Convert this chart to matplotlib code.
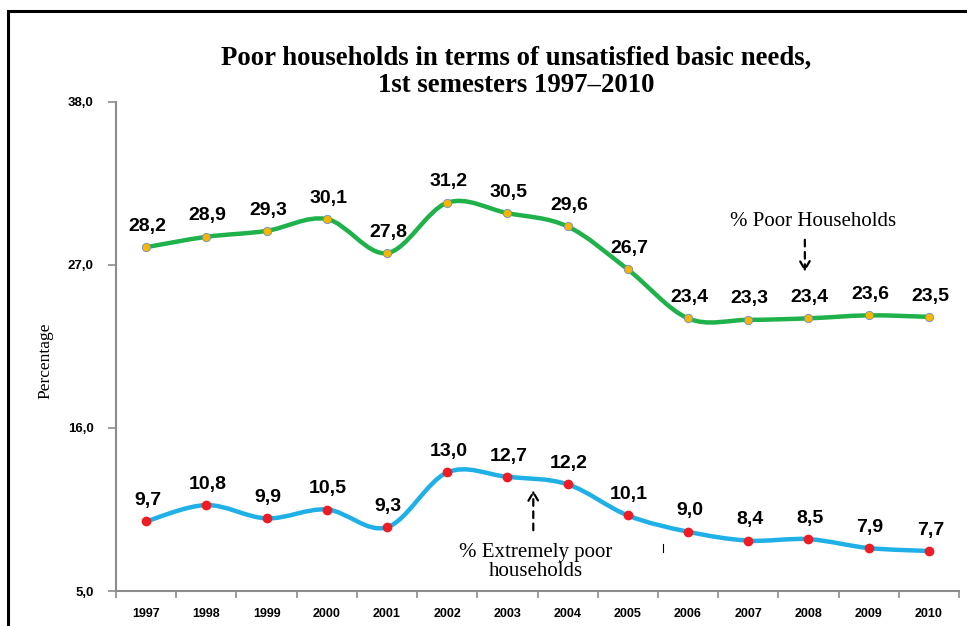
import numpy as np
import matplotlib.pyplot as plt
from matplotlib.path import Path
from matplotlib.patches import PathPatch, Rectangle

years = ['1997', '1998', '1999', '2000', '2001', '2002', '2003',
         '2004', '2005', '2006', '2007', '2008', '2009', '2010']
poor = [28.2, 28.9, 29.3, 30.1, 27.8, 31.2, 30.5, 29.6, 26.7,
        23.4, 23.3, 23.4, 23.6, 23.5]
extreme = [9.7, 10.8, 9.9, 10.5, 9.3, 13.0, 12.7, 12.2, 10.1,
           9.0, 8.4, 8.5, 7.9, 7.7]
y_ticks = [5.0, 16.0, 27.0, 38.0]


def smooth_path(xs, ys):
    # excel-like smoothed line: cubic bezier through every point
    pts = np.column_stack([xs, ys]).astype(float)
    n = len(pts)
    verts = [pts[0]]
    codes = [Path.MOVETO]
    for i in range(n - 1):
        p0 = pts[i - 1] if i > 0 else pts[i]
        p1 = pts[i]
        p2 = pts[i + 1]
        p3 = pts[i + 2] if i + 2 < n else pts[i + 1]
        c1 = p1 + (p2 - p0) / 6.0
        c2 = p2 - (p3 - p1) / 6.0
        verts += [c1, c2, p2]
        codes += [Path.CURVE4] * 3
    return Path(verts, codes)


fig = plt.figure(figsize=(9.67, 6.26), dpi=100)
ax = fig.add_axes([0.12, 0.0559, 0.8717, 0.7812])

x = np.arange(len(years))

ax.add_patch(PathPatch(smooth_path(x, poor), facecolor='none',
                       edgecolor='#1fb24a', lw=3.2, capstyle='round', zorder=2))
ax.add_patch(PathPatch(smooth_path(x, extreme), facecolor='none',
                       edgecolor='#1eb0e6', lw=3.2, capstyle='round', zorder=2))
ax.plot(x, poor, 'o', color='#f7b500', markeredgecolor='#6d8fc9',
        markeredgewidth=0.6, markersize=6, zorder=3)
ax.plot(x, extreme, 'o', color='#ee1c24', markeredgecolor='#ee1c24',
        markersize=6, zorder=3)

for xi, v in zip(x, poor):
    ax.annotate(f'{v:.1f}'.replace('.', ','), (xi, v), xytext=(1, 15),
                textcoords='offset points', ha='center', va='center',
                fontsize=14, fontweight='bold', family='Liberation Sans')
for xi, v in zip(x, extreme):
    ax.annotate(f'{v:.1f}'.replace('.', ','), (xi, v), xytext=(1, 15),
                textcoords='offset points', ha='center', va='center',
                fontsize=14, fontweight='bold', family='Liberation Sans')

ax.set_xlim(-0.5, len(years) - 0.5)
ax.set_ylim(5, 38)
ax.set_yticks(y_ticks)
ax.set_yticklabels([f'{t:.1f}'.replace('.', ',') for t in y_ticks],
                   fontsize=9.5, fontweight='bold', family='Liberation Sans')
ax.set_xticks(x)
ax.set_xticklabels(years, fontsize=9, fontweight='bold', family='Liberation Sans')
ax.set_xticks(np.arange(-0.5, len(years)), minor=True)
ax.tick_params(axis='x', which='major', length=0, pad=12)
ax.tick_params(axis='x', which='minor', length=5, color='#8c8c8c', width=1.2)
ax.tick_params(axis='y', length=6, color='#8c8c8c', width=1.2, pad=10)

for s in ['top', 'right']:
    ax.spines[s].set_visible(False)
for s in ['left', 'bottom']:
    ax.spines[s].set_color('#8c8c8c')
    ax.spines[s].set_linewidth(1.5)

fig.text(45 / 967, 1 - 361 / 626, 'Percentage', rotation=90, ha='center', va='center',
         family='Liberation Serif', fontsize=12.5)

# annotations
arrow = dict(arrowstyle='->,head_length=0.6,head_width=0.35', ls=(0, (3, 2.5)),
             lw=1.6, color='black', shrinkA=0, shrinkB=0)
ax.text(11.08, 29.95, '% Poor Households', ha='center', va='center',
        family='Liberation Serif', fontsize=15)
ax.annotate('', xy=(10.94, 26.55), xytext=(10.94, 28.7), arrowprops=arrow)
ax.text(6.47, 6.95, '% Extremely poor\nhouseholds', ha='center', va='center',
        family='Liberation Serif', fontsize=15, linespacing=1.05)
ax.annotate('', xy=(6.43, 11.8), xytext=(6.43, 9.1), arrowprops=arrow)
ax.plot([8.58, 8.58], [7.6, 8.2], color='black', lw=0.8)

fig.text(0.534, 0.885, 'Poor households in terms of unsatisfied basic needs,\n1st semesters 1997\u20132010',
         ha='center', va='center', family='Liberation Serif', fontweight='bold',
         fontsize=19.3, linespacing=1.15)

# frame around the chart
fig.patches.append(Rectangle((8 / 967, -0.05), 1.0, 1 - 11 / 626 + 0.05,
                             transform=fig.transFigure, fill=False,
                             edgecolor='black', lw=2.2))

fig.savefig('out.png', dpi=100)
